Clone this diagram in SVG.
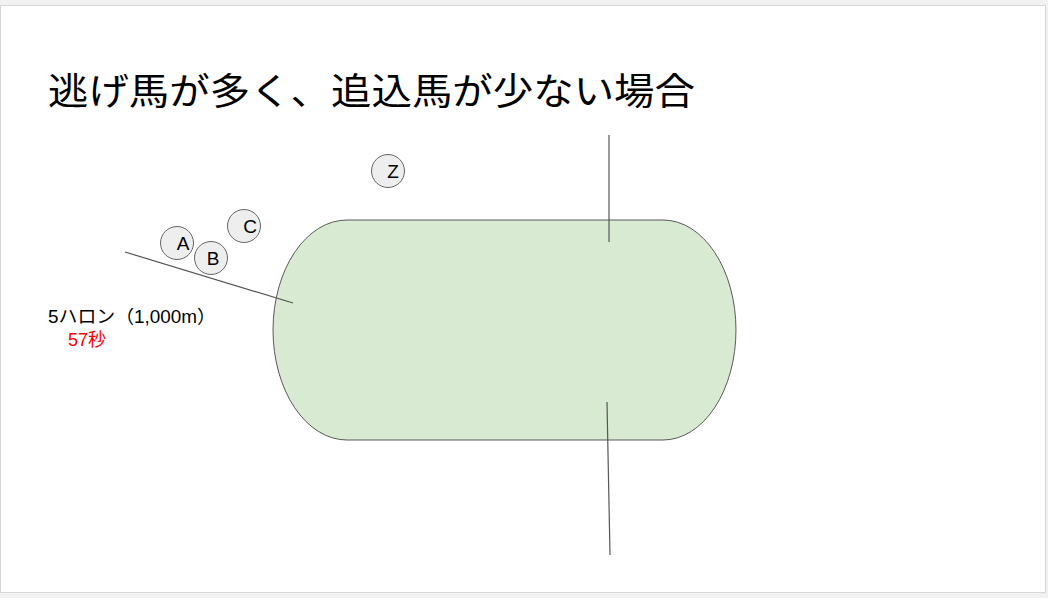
<svg xmlns="http://www.w3.org/2000/svg" width="1048" height="598" viewBox="0 0 1048 598">
<style>
.jp{font-family:"Liberation Sans","Noto Sans CJK JP",sans-serif;}
.horse circle{fill:#eeeeee;stroke:#666666;stroke-width:1;}
.horse text{font-family:"Liberation Sans",Arial,sans-serif;font-size:19px;fill:#000;text-anchor:middle;}
.ln{stroke:#555555;stroke-width:1.2;fill:none;}
</style>
<rect x="0" y="0" width="1048" height="598" fill="#f1f1f1"/>
<rect x="0.5" y="5.5" width="1045" height="587" fill="#ffffff" stroke="#d6d6d6" stroke-width="1"/>
<text x="48" y="105" class="jp" font-size="37" textLength="647" lengthAdjust="spacingAndGlyphs" fill="#000">逃げ馬が多く、追込馬が少ない場合</text>
<g id="track">
<path d="M347,220 H663 A73,110 0 0 1 663,440 H347 A74,110 0 0 1 347,220 Z" fill="#d9ead3" stroke="#595959" stroke-width="1"/>
</g>
<g id="connectors">
<line class="ln" x1="609" y1="135" x2="609" y2="242"/>
<line class="ln" x1="607" y1="402" x2="610" y2="555"/>
<line class="ln" x1="125" y1="252" x2="293" y2="303"/>
</g>
<g id="horseA" class="horse"><circle cx="177" cy="243" r="16.5"/><text x="183" y="250">A</text></g>
<g id="horseB" class="horse"><circle cx="211" cy="258" r="16.5"/><text x="213" y="265">B</text></g>
<g id="horseC" class="horse"><circle cx="244" cy="226" r="16.5"/><text x="250" y="233">C</text></g>
<g id="horseZ" class="horse"><circle cx="388" cy="171" r="16.5"/><text x="393" y="178">Z</text></g>
<g id="label">
<text x="48" y="323" class="jp" font-size="18" textLength="168" lengthAdjust="spacingAndGlyphs" fill="#000">5ハロン（1,000m）</text>
<text x="68" y="346" class="jp" font-size="18" fill="#ff0000">57秒</text>
</g>
</svg>
